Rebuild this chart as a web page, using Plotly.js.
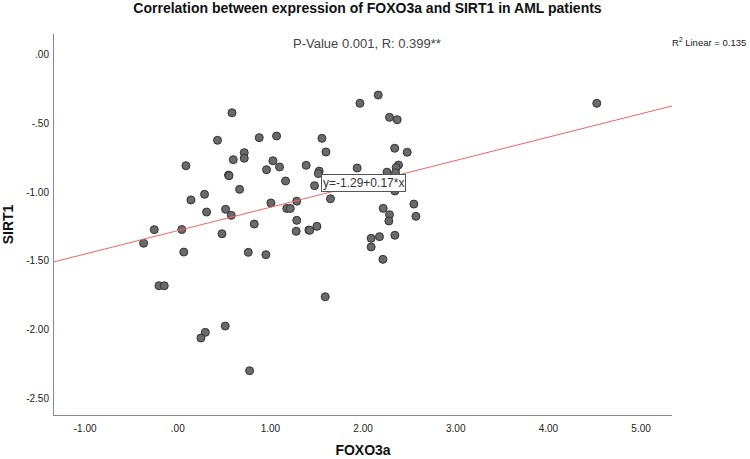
<!DOCTYPE html>
<html>
<head>
<meta charset="utf-8">
<script src="https://cdn.plot.ly/plotly-3.0.1.min.js"></script>
<style>
  html, body { margin: 0; padding: 0; background: #fff; }
  #chart { width: 750px; height: 459px; }
</style>
</head>
<body>
<div id="chart"></div>
<script>
// FOXO3a vs SIRT1 expression
const foxo3a = [
  0.585, 0.429, 0.879, 1.066, 1.556, 1.966, 2.163, 2.285, 2.368, 4.522,
  0.717, 0.717, 0.599, 1.599, 2.341, 2.476, 0.088, 1.027, 0.958, 1.098,
  1.386, 1.526, 1.516, 1.936, 2.382, 2.357, 2.350, 2.258, 0.548, 0.553,
  1.163, 0.667, 1.476, 2.343, 1.648, 0.142, 0.289, 1.005, 1.284, 1.176,
  1.214, 0.311, 0.516, 0.577, 2.548, 2.570, 2.217, 2.285, 2.278, -0.254,
  0.043, 0.477, 0.825, 1.284, 1.278, 1.415, 1.424, 1.502, -0.369, 0.065,
  0.761, 0.951, 2.087, 2.177, 2.343, 2.087, 2.214, -0.203, -0.146, 1.591,
  0.512, 0.297, 0.250, 0.775
];
const sirt1 = [
  -0.423, -0.623, -0.604, -0.592, -0.609, -0.354, -0.294, -0.456, -0.473, -0.354,
  -0.713, -0.754, -0.764, -0.708, -0.681, -0.710, -0.808, -0.772, -0.837, -0.817,
  -0.805, -0.847, -0.865, -0.825, -0.803, -0.821, -0.859, -0.855, -0.876, -0.881,
  -0.919, -0.980, -0.953, -0.992, -1.048, -1.057, -1.016, -1.079, -1.066, -1.119,
  -1.119, -1.145, -1.125, -1.169, -1.087, -1.176, -1.118, -1.164, -1.210, -1.273,
  -1.272, -1.303, -1.232, -1.205, -1.285, -1.276, -1.278, -1.249, -1.372, -1.436,
  -1.438, -1.455, -1.336, -1.324, -1.314, -1.399, -1.489, -1.681, -1.681, -1.761,
  -1.974, -2.020, -2.061, -2.299
];

// linear fit drawn across the plot
const fitIntercept = -1.28;
const fitSlope = 0.17;

const xTickVals = [-1, 0, 1, 2, 3, 4, 5];
const xTickText = ['-1.00', '.00', '1.00', '2.00', '3.00', '4.00', '5.00'];
const yTickVals = [0, -0.5, -1, -1.5, -2, -2.5];
const yTickText = ['.00', '-.50', '-1.00', '-1.50', '-2.00', '-2.50'];

const xRange = [-1.336, 5.334];
const yRange = [-2.621, 0.150];

const FONT = 'Liberation Sans, Arial, sans-serif';

const points = {
  x: foxo3a,
  y: sirt1,
  mode: 'markers',
  type: 'scatter',
  marker: {
    color: '#6a6a6a',
    size: 8,
    line: { color: '#333333', width: 1 }
  },
  hoverinfo: 'x+y'
};

const fitLine = {
  x: xRange,
  y: xRange.map(v => fitIntercept + fitSlope * v),
  mode: 'lines',
  type: 'scatter',
  line: { color: '#f26464', width: 1 },
  hoverinfo: 'skip'
};

const layout = {
  width: 750,
  height: 459,
  paper_bgcolor: '#ffffff',
  plot_bgcolor: '#ffffff',
  margin: { l: 54, r: 78, t: 34, b: 44 },
  showlegend: false,
  title: {
    text: 'Correlation between expression of FOXO3a and SIRT1 in AML patients',
    font: { family: FONT, size: 14, color: '#111', weight: 'bold' },
    xref: 'container',
    x: 0.49,
    xanchor: 'center',
    yref: 'container',
    y: 1,
    yanchor: 'top',
    pad: { t: 3 }
  },
  xaxis: {
    range: xRange,
    tickvals: xTickVals,
    ticktext: xTickText,
    showgrid: false,
    zeroline: false,
    showline: true,
    linecolor: '#8a8a8a',
    linewidth: 1,
    ticks: '',
    ticklabelstandoff: 4,
    tickfont: { family: FONT, size: 10, color: '#222' },
    title: {
      text: 'FOXO3a',
      font: { family: FONT, size: 14, color: '#111', weight: 'bold' },
      standoff: 12
    }
  },
  yaxis: {
    range: yRange,
    tickvals: yTickVals,
    ticktext: yTickText,
    showgrid: false,
    zeroline: false,
    showline: true,
    linecolor: '#8a8a8a',
    linewidth: 1,
    ticks: '',
    ticklabelstandoff: 2,
    tickfont: { family: FONT, size: 10, color: '#222' },
    title: {
      text: 'SIRT1',
      font: { family: FONT, size: 14, color: '#111', weight: 'bold' },
      standoff: 10
    }
  },
  annotations: [
    {
      text: 'P-Value 0.001, R: 0.399**',
      xref: 'paper', yref: 'paper',
      x: 0.506, y: 1,
      xanchor: 'center', yanchor: 'bottom',
      yshift: -19,
      showarrow: false,
      font: { family: FONT, size: 13, color: '#444' }
    },
    {
      text: 'R<sup>2</sup> Linear = 0.135',
      xref: 'paper', yref: 'paper',
      x: 1, y: 1,
      xanchor: 'left', yanchor: 'bottom',
      yshift: -16,
      xshift: -2,
      showarrow: false,
      font: { family: FONT, size: 9.5, color: '#222' }
    },
    {
      text: 'y=-1.29+0.17*x',
      xref: 'x', yref: 'y',
      x: 2.0, y: -0.937,
      xanchor: 'center', yanchor: 'middle',
      showarrow: false,
      bgcolor: '#ffffff',
      bordercolor: '#555555',
      borderwidth: 1,
      borderpad: 1,
      font: { family: FONT, size: 12, color: '#333' }
    }
  ]
};

Plotly.newPlot('chart', [points, fitLine], layout, { displayModeBar: false, staticPlot: true });
</script>
</body>
</html>
